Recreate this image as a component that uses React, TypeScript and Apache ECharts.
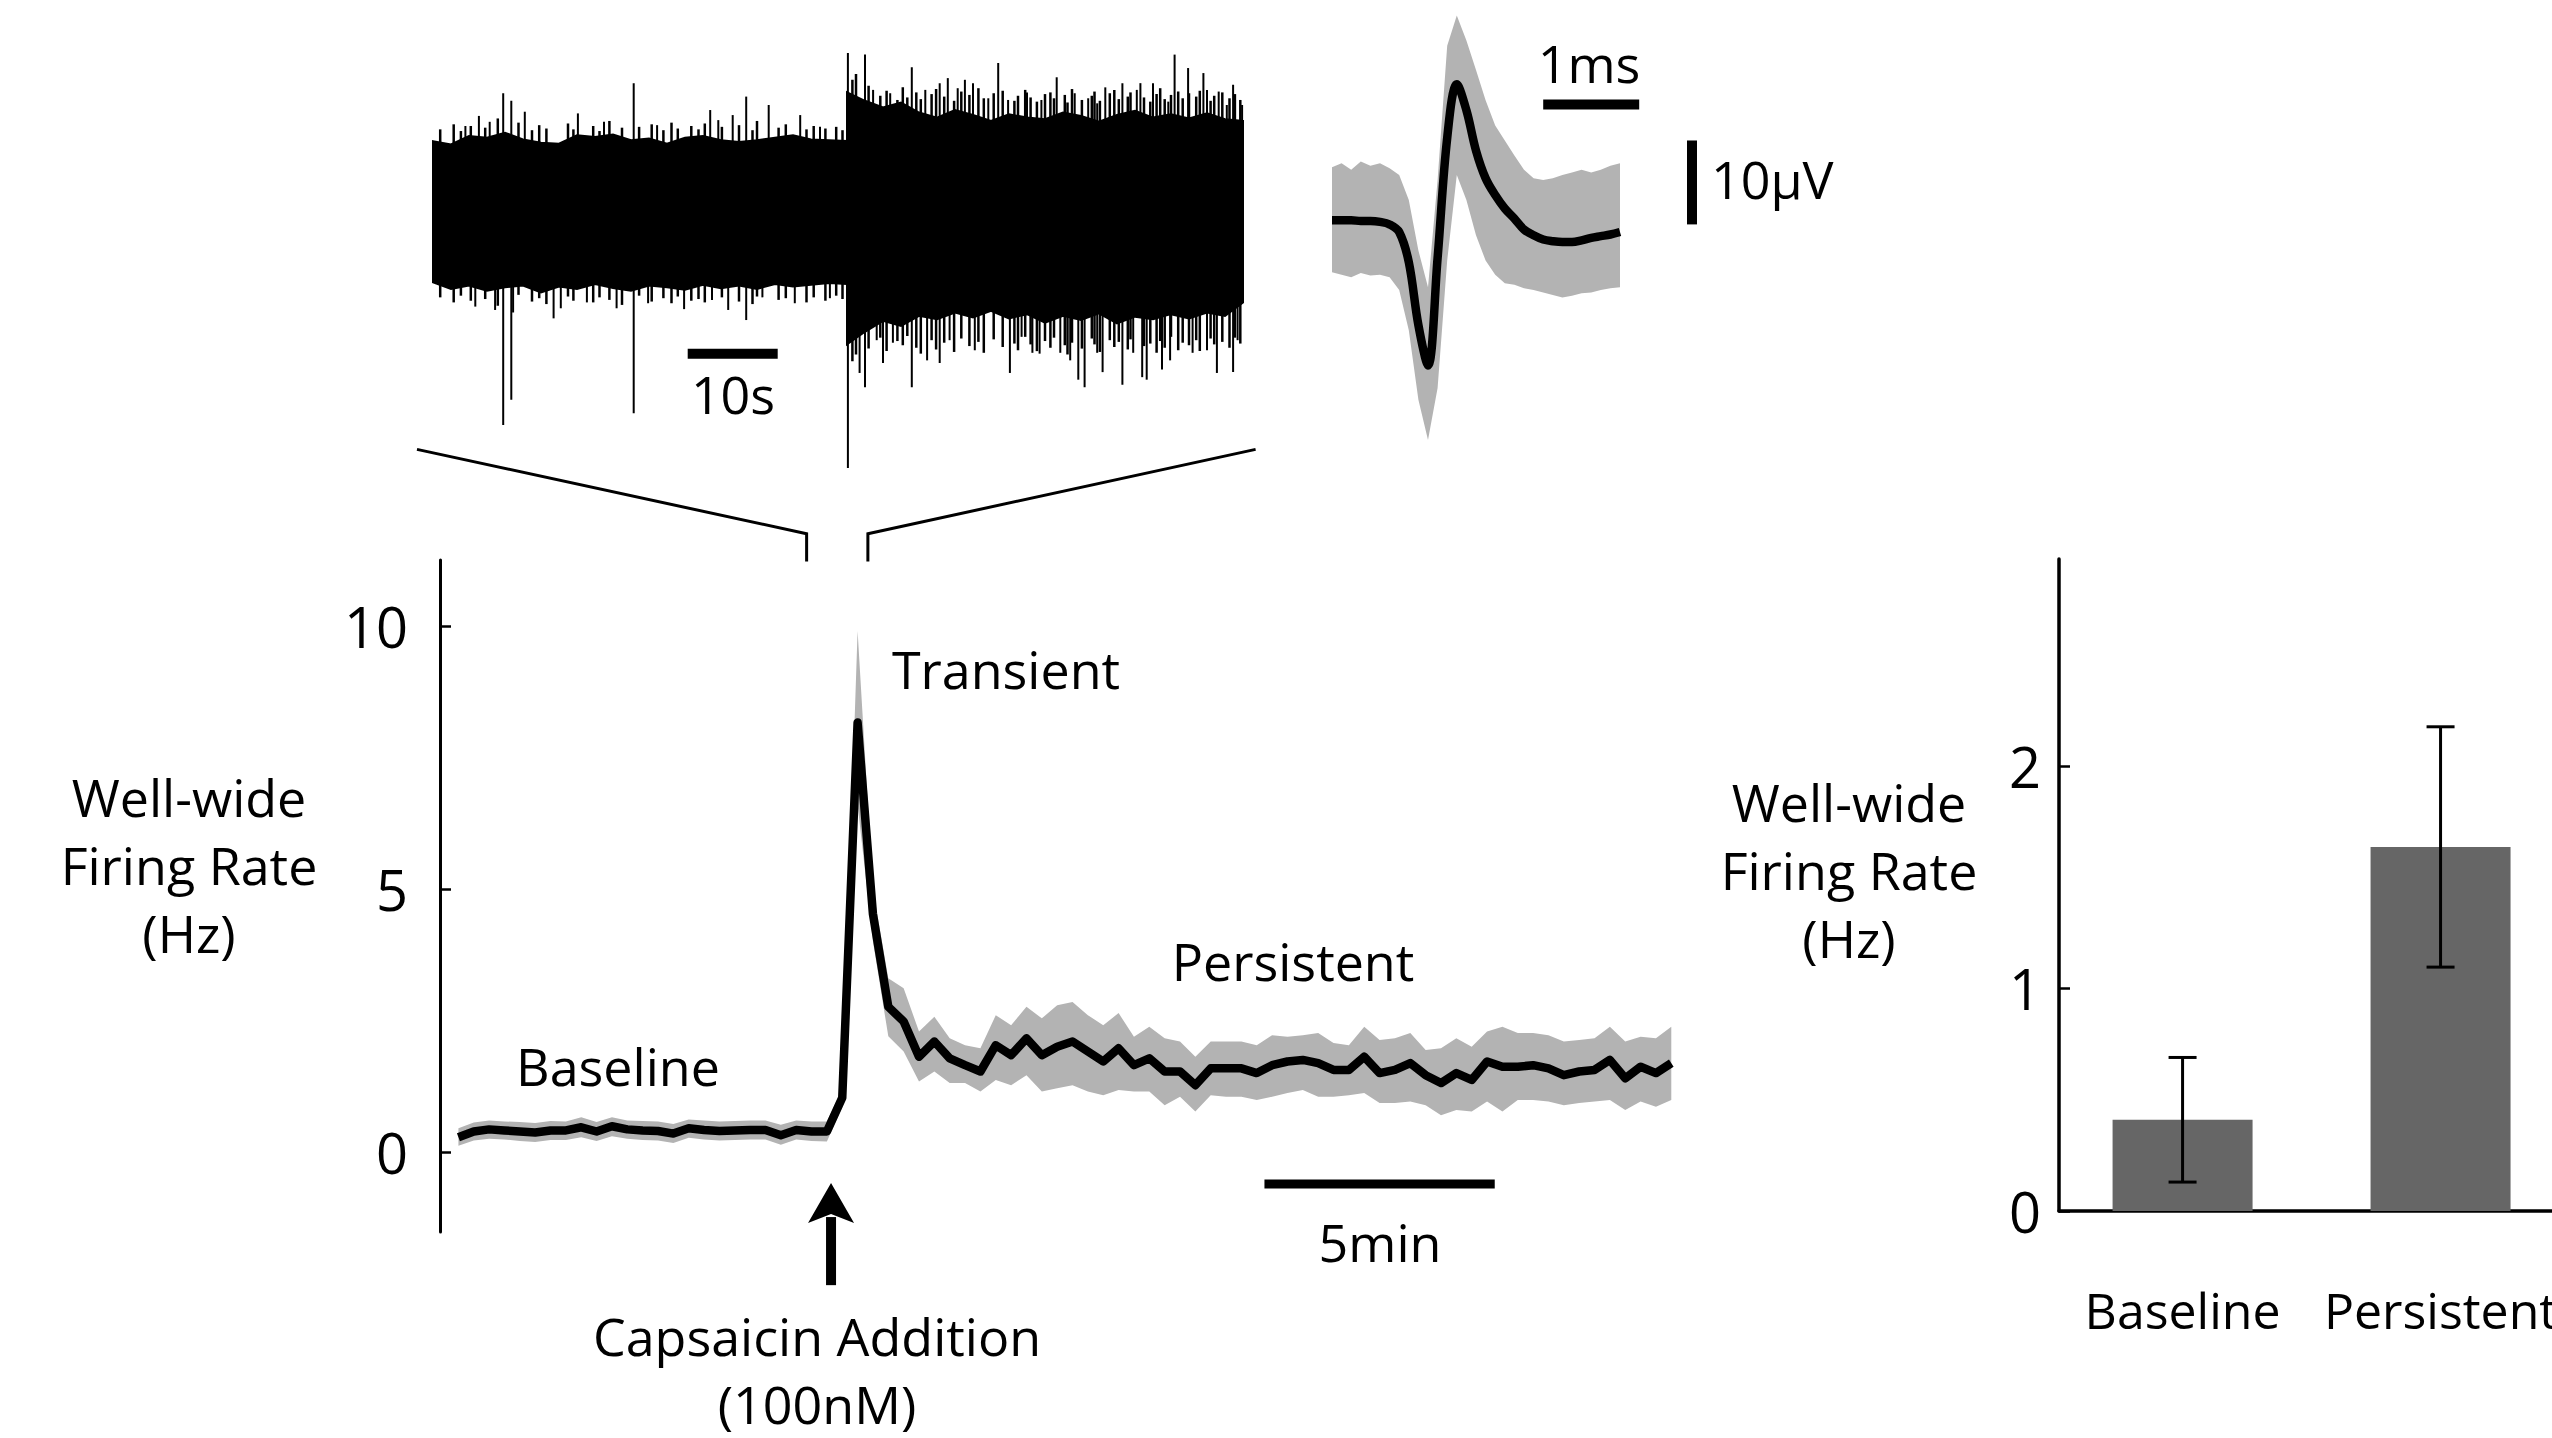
import React, { useEffect, useRef } from "react";
import * as echarts from "echarts";

// ---------- Raw trace (top left), seconds / µV ----------
const traceTimes = [0, 2, 4, 6, 8, 10, 12, 14, 16, 18, 20, 22, 24, 26, 28, 30, 32, 34, 36, 38, 40, 42, 44, 46,
  46, 48, 50, 52, 54, 56, 58, 60, 62, 64, 66, 68, 70, 72, 74, 76, 78, 80, 82, 84, 86, 88, 90];
const traceHigh = [8.2, 7.8, 8.8, 8.6, 9.2, 8.4, 8.0, 7.9, 8.9, 8.7, 9.0, 8.3, 8.5, 7.9, 8.6, 8.8, 8.3, 8.1, 8.3, 8.6, 8.9, 8.4, 8.3, 8.2,
  14.0, 13.0, 12.2, 12.8, 11.6, 11.0, 11.9, 11.3, 10.6, 11.4, 11.0, 10.8, 11.6, 11.2, 10.5, 11.3, 11.8, 11.0, 11.4, 10.9, 11.5, 10.8, 10.6];
const traceLow = [-8.6, -9.4, -9.0, -9.6, -9.2, -9.0, -9.8, -9.1, -9.4, -8.8, -9.3, -9.6, -9.0, -9.2, -9.5, -8.9, -9.3, -9.0, -9.4, -8.8, -9.1, -8.9, -8.7, -8.8,
  -16.0, -14.5, -13.2, -13.8, -12.6, -13.0, -12.2, -12.8, -12.0, -12.9, -12.4, -13.4, -12.6, -13.1, -12.3, -13.5, -12.7, -13.0, -12.4, -12.9, -12.2, -12.6, -11.0];

// large isolated spikes
const spikeTimes = [3.6, 4.7, 5.1, 6.3, 6.9, 7.8, 8.7, 8.9, 10.2, 13.4, 14.2, 16.1, 17.1, 19.0, 20.4, 22.3, 23.9, 24.9, 27.9, 30.8, 31.0, 31.7, 32.8, 33.3, 34.8, 36.6, 37.3, 40.2, 40.8, 43.0, 44.1,
  46.1, 47.4, 48.0, 48.9, 49.3, 50.0, 50.8, 51.1, 53.2, 54.7, 54.9, 56.3, 57.2, 57.4, 58.3, 59.1, 60.0, 60.2, 61.7, 62.8, 63.9, 64.1, 65.4, 66.0, 66.6, 67.4, 67.6, 69.3, 69.7, 70.8, 71.3, 71.7, 72.4, 72.8, 73.8, 74.4, 74.7, 76.6, 77.8, 78.2, 78.6, 78.8, 79.3, 80.0, 81.0, 81.7, 81.9, 82.4, 83.9, 84.4, 85.6, 86.0, 87.1, 87.3, 88.2, 88.9, 89.4, 89.9];
const spikeHighs = [10.0, 0, 11.2, 10.5, 0, 13.9, 13.0, 0, 11.7, 0, 0, 11.5, 0, 10.5, 0, 15.1, 0, 10.1, 0, 11.9, 0, 10.7, 0, 11.3, 13.5, 0, 12.5, 0, 11.3, 9.9, 0,
  18.7, 0, 18.5, 14.3, 0, 0, 13.9, 0, 17.0, 14.3, 0, 15.1, 15.7, 0, 14.5, 15.5, 15.1, 0, 13.3, 17.5, 13.1, 0, 0, 14.0, 0, 0, 13.1, 15.8, 0, 0, 13.9, 0, 0, 13.3, 12.7, 0, 14.6, 15.1, 0, 14.3, 15.1, 0, 0, 15.1, 0, 12.9, 0, 18.5, 16.9, 0, 16.3, 14.3, 0, 14.1, 12.5, 14.9, 0, 12.5];
const spikeLows = [0, -11.5, 0, 0, -11.9, -25.6, -22.6, -12.2, 0, -12.9, -11.7, 0, -11.0, 0, -11.7, -24.2, -11.1, 0, -11.8, 0, -10.7, 0, -11.9, 0, -13.1, -10.4, 0, -11.1, 0, 0, -10.5,
  -30.7, -19.4, -21.1, 0, -15.5, -18.2, 0, -15.8, -21.1, 0, -17.9, -18.2, 0, -15.5, 0, 0, 0, -16.7, 0, 0, 0, -19.4, -15.1, 0, -17.0, -17.1, 0, 0, -17.0, -17.9, 0, -20.2, -21.1, 0, -17.0, -19.3, 0, -20.8, -17.0, 0, 0, -19.9, -20.2, 0, -19.0, 0, -17.9, 0, 0, -17.0, 0, -16.7, -19.4, 0, 0, -19.3, -15.5, 0];

// ragged noise fringe around the dense band
const fringeTimes = [0.8, 2.3, 3.1, 4.2, 5.8, 7.2, 9.5, 11.0, 11.8, 12.6, 15.0, 15.6, 17.8, 18.5, 19.6, 21.0, 22.9, 24.3, 25.6, 26.5, 27.2, 28.7, 29.5, 30.2, 32.1, 34.0, 35.5, 36.0, 38.4, 39.2, 41.5, 42.3, 43.6, 44.8, 45.5,
  46.6, 47.0, 48.4, 49.7, 50.4, 51.6, 52.2, 52.7, 53.7, 54.2,
  55.4, 55.9, 56.8, 57.9, 58.7, 59.6, 60.6, 61.2, 62.3, 63.3,
  64.6, 65.0, 65.8, 66.4, 67.1, 68.0, 68.6, 69.0, 70.2, 70.5,
  71.0, 72.1, 73.2, 73.5, 74.1, 75.2, 75.7, 76.2, 77.2, 77.5,
  79.0, 79.7, 80.4, 80.8, 81.3, 82.0, 82.8, 83.3, 84.0, 84.8,
  85.2, 86.4, 86.8, 87.7, 88.5, 89.1, 89.7];
const fringeHighs = [9.6, 10.2, 9.4, 10.0, 9.8, 10.9, 10.4, 9.5, 10.1, 9.7, 10.3, 9.6, 10.0, 9.4, 10.6, 9.8, 9.9, 10.2, 9.5, 10.4, 9.7, 10.0, 9.6, 10.3, 9.9, 10.1, 9.5, 10.6, 9.8, 10.2, 9.6, 10.0, 9.7, 9.9, 9.5,
  15.5, 16.2, 14.8, 13.6, 14.2, 13.1, 14.6, 13.4, 14.0, 13.2,
  13.8, 14.4, 13.5, 13.0, 14.1, 13.7, 14.5, 13.3, 13.9, 14.2,
  13.0, 13.6, 14.3, 13.4, 12.9, 13.8, 14.0, 13.3, 13.7, 12.8,
  14.4, 13.1, 13.6, 14.1, 13.0, 13.9, 14.3, 13.2, 13.5, 14.0,
  13.4, 12.9, 13.8, 14.5, 13.2, 13.7, 14.1, 13.3, 13.9, 13.5,
  14.2, 13.0, 13.6, 14.0, 13.3, 13.8, 13.1];
const fringeLows = [-10.4, -11.0, -10.2, -10.8, -10.6, -11.4, -10.1, -10.9, -10.5, -11.2, -10.3, -10.8, -11.0, -10.4, -10.7, -11.3, -10.2, -10.9, -10.5, -11.1, -10.3, -10.8, -10.6, -11.0, -10.4, -10.9, -11.2, -10.3, -10.7, -10.5, -11.0, -10.4, -10.8, -10.2, -10.6,
  -18.0, -17.2, -16.5, -15.2, -16.8, -15.6, -16.1, -15.0, -16.4, -17.1,
  -15.5, -16.6, -15.8, -16.9, -15.3, -16.2, -15.7, -17.0, -15.4, -16.3,
  -15.9, -16.7, -15.1, -16.0, -16.8, -15.6, -16.4, -15.2, -16.1, -17.2,
  -15.8, -16.5, -15.3, -16.0, -16.9, -15.5, -16.3, -15.7, -16.6, -15.4,
  -16.2, -15.9, -17.0, -15.6, -16.4, -15.1, -16.7, -15.8, -16.1, -15.5,
  -16.8, -15.3, -16.0, -15.7, -16.4, -15.2, -15.9];

// ---------- Spike waveform (top right), ms / µV ----------
const waveStepMs = 0.1;
const waveMean = [0, 0, 0, -0.1, -0.1, -0.2, -0.5, -1.4, -5.0, -12.5, -17.3, -4.5, 9.8, 16.2, 13.1, 8.3, 5.0, 3.0, 1.4, 0.2, -1.1, -1.8, -2.3, -2.5, -2.6, -2.6, -2.4, -2.1, -1.9, -1.7, -1.4];
const waveHigh = [6.3, 6.8, 6.0, 7.0, 6.5, 6.8, 6.2, 5.4, 2.4, -3.6, -8.0, 4.8, 20.8, 24.4, 21.4, 17.9, 14.3, 11.3, 9.5, 7.7, 6.0, 5.0, 4.8, 5.0, 5.4, 5.7, 6.0, 5.7, 6.0, 6.5, 6.8];
const waveLow = [-6.2, -6.5, -6.8, -6.3, -6.6, -6.5, -6.8, -8.3, -13.1, -21.4, -26.2, -20.0, -4.8, 5.4, 2.4, -1.8, -4.8, -6.5, -7.5, -7.7, -8.1, -8.3, -8.6, -8.9, -9.2, -9.0, -8.7, -8.6, -8.3, -8.1, -8.0];

// ---------- Well-wide firing rate (bottom left), 20 s bins ----------
const binMinutes = 1 / 3;
const rateMean = [0.28, 0.39, 0.43, 0.41, 0.39, 0.37, 0.41, 0.41, 0.47, 0.39, 0.49, 0.43, 0.41, 0.40, 0.35, 0.45, 0.42, 0.40, 0.41, 0.42, 0.42, 0.32, 0.42, 0.39, 0.39,
  1.03, 8.16, 4.52, 2.76,
  2.48, 1.81, 2.10, 1.78, 1.65, 1.53, 2.03, 1.84, 2.16, 1.84, 2.00, 2.10, 1.91, 1.72, 1.97, 1.65, 1.78, 1.53, 1.53, 1.27, 1.59, 1.59, 1.59, 1.50,
  1.65, 1.72, 1.75, 1.69, 1.56, 1.56, 1.81, 1.50, 1.56, 1.69, 1.46, 1.31, 1.50, 1.37, 1.72, 1.62, 1.62, 1.65, 1.59, 1.46, 1.53, 1.56, 1.75, 1.40, 1.62, 1.50, 1.69];
const rateHigh = [0.45, 0.56, 0.60, 0.58, 0.57, 0.55, 0.59, 0.58, 0.66, 0.57, 0.66, 0.60, 0.59, 0.58, 0.53, 0.62, 0.60, 0.58, 0.59, 0.60, 0.60, 0.52, 0.60, 0.58, 0.58,
  1.20, 9.90, 5.00, 3.30,
  3.11, 2.29, 2.57, 2.16, 2.03, 1.97, 2.60, 2.41, 2.76, 2.54, 2.79, 2.85, 2.60, 2.41, 2.64, 2.19, 2.38, 2.16, 2.10, 1.81, 2.10, 2.10, 2.10, 2.03,
  2.22, 2.19, 2.22, 2.26, 2.07, 2.03, 2.38, 2.13, 2.16, 2.26, 1.94, 1.97, 2.16, 2.00, 2.29, 2.38, 2.26, 2.26, 2.22, 2.10, 2.13, 2.16, 2.38, 2.10, 2.19, 2.16, 2.38];
const rateLow = [0.12, 0.22, 0.25, 0.24, 0.21, 0.19, 0.23, 0.23, 0.28, 0.21, 0.30, 0.25, 0.23, 0.22, 0.17, 0.27, 0.24, 0.22, 0.23, 0.24, 0.24, 0.14, 0.24, 0.21, 0.20,
  0.85, 6.60, 4.00, 2.20,
  1.91, 1.34, 1.53, 1.31, 1.31, 1.15, 1.37, 1.27, 1.46, 1.15, 1.21, 1.27, 1.15, 1.08, 1.18, 1.15, 1.15, 0.89, 1.05, 0.77, 1.08, 1.05, 1.05, 0.99,
  1.05, 1.12, 1.18, 1.05, 1.05, 1.08, 1.12, 0.93, 0.93, 0.96, 0.89, 0.70, 0.80, 0.77, 0.96, 0.77, 0.99, 0.99, 0.96, 0.89, 0.93, 0.96, 0.99, 0.80, 0.96, 0.86, 0.99];
const rateTicks = [0, 5, 10];

// ---------- Bar chart (bottom right) ----------
const barCategories = ["Baseline", "Persistent"];
const barMeans = [0.41, 1.636];
const barErrors = [0.28, 0.54];
const barTicks = [0, 1, 2];
const barSlots = [0, 1];

// ---------- Scale bars & annotations (axis units) ----------
const traceScaleSec = [28.3, 38.3];
const traceScaleLevel = -17.1;
const waveScaleMs = [2.2, 3.2];
const waveScaleMsLevel = 13.8;
const waveScaleUvAt = 3.75;
const waveScaleUv = [-0.5, 9.5];
const minuteScale = [17.5, 22.5];
const minuteScaleLevel = -0.61;
const capsaicinMin = 8.09;
const zoomWindowMin = [7.56, 8.89];
const zoomTraceEnds = [-1.78, 91.4];

const FONT = '"Open Sans", "Noto Sans", sans-serif';

export default function App() {
  const ref = useRef<HTMLDivElement>(null);
  useEffect(() => {
    const chart = echarts.init(ref.current!, null, { renderer: "svg" });
    const rateTimes = rateMean.map((_, i) => i * binMinutes);
    const waveTimes = waveMean.map((_, i) => i * waveStepMs);

    const bandItem = (xs: number[], hi: number[], lo: number[], fill: string, strokeW = 0) =>
      (params: any, api: any) => {
        const pts: number[][] = [];
        for (let i = 0; i < xs.length; i++) pts.push(api.coord([xs[i], hi[i]]));
        for (let i = xs.length - 1; i >= 0; i--) pts.push(api.coord([xs[i], lo[i]]));
        return {
          type: "polygon",
          shape: { points: pts },
          style: { fill, stroke: fill, lineWidth: strokeW },
          silent: true,
        };
      };

    const vLines = (color: string, width: number) => (params: any, api: any) => {
      const a = api.coord([api.value(0), api.value(1)]);
      const b = api.coord([api.value(0), api.value(2)]);
      return { type: "line", shape: { x1: a[0], y1: a[1], x2: b[0], y2: b[1] }, style: { stroke: color, lineWidth: width } };
    };

    const scaleLine = (xi: number, data: number[][], width: number) => ({
      type: "line",
      xAxisIndex: xi,
      yAxisIndex: xi,
      data,
      symbol: "none",
      silent: true,
      clip: false,
      z: 6,
      lineStyle: { color: "#000", width, cap: "butt" },
    });

    const axisLabelStyle = { color: "#000", fontFamily: FONT, fontSize: 56 };

    const option: any = {
      animation: false,
      backgroundColor: "#ffffff",
      grid: [
        { left: 433, top: 0, width: 810, height: 504, outerBoundsMode: "none", containLabel: false },
        { left: 1332, top: 2, width: 384, height: 470, outerBoundsMode: "none", containLabel: false },
        { left: 440, top: 560, width: 1262, height: 672, outerBoundsMode: "none", containLabel: false },
        { left: 2059, top: 559, width: 493, height: 652, outerBoundsMode: "none", containLabel: false },
      ],
      xAxis: [
        { gridIndex: 0, type: "value", min: 0, max: 90, show: false },
        { gridIndex: 1, type: "value", min: 0, max: 4, show: false },
        { gridIndex: 2, type: "value", min: -0.4, max: 27, show: false },
        {
          gridIndex: 3,
          type: "value",
          min: -0.479,
          max: 1.432,
          axisLine: { show: true, onZero: false, lineStyle: { color: "#000", width: 3.5 } },
          axisTick: { show: false },
          axisLabel: {
            customValues: barSlots,
            formatter: (v: number) => barCategories[Math.round(v)] || "",
            margin: 74,
            color: "#000",
            fontFamily: FONT,
            fontSize: 50,
            hideOverlap: false,
          },
          splitLine: { show: false },
        },
      ],
      yAxis: [
        { gridIndex: 0, type: "value", min: -35, max: 25, show: false },
        { gridIndex: 1, type: "value", min: -30, max: 26, show: false },
        {
          gridIndex: 2,
          type: "value",
          min: -1.52,
          max: 11.25,
          splitLine: { show: false },
          axisLine: { show: true, onZero: false, lineStyle: { color: "#000", width: 3 } },
          axisTick: { show: true, inside: true, length: 11, lineStyle: { color: "#000", width: 2.5 }, customValues: rateTicks },
          axisLabel: { ...axisLabelStyle, margin: 32, customValues: rateTicks },
        },
        {
          gridIndex: 3,
          type: "value",
          min: 0,
          max: 2.93,
          splitLine: { show: false },
          axisLine: { show: true, onZero: false, lineStyle: { color: "#000", width: 3.5 } },
          axisTick: { show: true, inside: true, length: 11, lineStyle: { color: "#000", width: 2.5 }, customValues: barTicks },
          axisLabel: { ...axisLabelStyle, margin: 18, customValues: barTicks },
        },
      ],
      series: [
        {
          type: "custom",
          xAxisIndex: 0,
          yAxisIndex: 0,
          data: [[traceTimes[0], 0]],
          renderItem: bandItem(traceTimes, traceHigh, traceLow, "#000", 2),
          silent: true,
          z: 2,
        },
        {
          type: "custom",
          xAxisIndex: 0,
          yAxisIndex: 0,
          data: fringeTimes.map((t, i) => [t, fringeHighs[i], fringeLows[i]]),
          encode: { x: 0, y: [1, 2] },
          silent: true,
          z: 3,
          renderItem: vLines("#000", 2.5),
        },
        {
          type: "custom",
          xAxisIndex: 0,
          yAxisIndex: 0,
          data: spikeTimes.map((t, i) => [t, spikeHighs[i], spikeLows[i]]),
          encode: { x: 0, y: [1, 2] },
          silent: true,
          z: 3,
          renderItem: vLines("#000", 2),
        },
        scaleLine(0, traceScaleSec.map((t) => [t, traceScaleLevel]), 10),
        {
          type: "custom",
          xAxisIndex: 1,
          yAxisIndex: 1,
          data: [[waveTimes[0], 0]],
          renderItem: bandItem(waveTimes, waveHigh, waveLow, "#b3b3b3"),
          silent: true,
          z: 2,
        },
        {
          type: "line",
          xAxisIndex: 1,
          yAxisIndex: 1,
          data: waveTimes.map((t, i) => [t, waveMean[i]]),
          symbol: "none",
          smooth: 0.35,
          silent: true,
          z: 4,
          lineStyle: { color: "#000", width: 8.5, join: "round" },
        },
        scaleLine(1, waveScaleMs.map((t) => [t, waveScaleMsLevel]), 10),
        scaleLine(1, waveScaleUv.map((v) => [waveScaleUvAt, v]), 10),
        {
          type: "custom",
          xAxisIndex: 2,
          yAxisIndex: 2,
          data: [[rateTimes[0], rateMean[0]]],
          renderItem: bandItem(rateTimes, rateHigh, rateLow, "#b3b3b3"),
          silent: true,
          z: 2,
        },
        {
          type: "line",
          xAxisIndex: 2,
          yAxisIndex: 2,
          data: rateTimes.map((t, i) => [t, rateMean[i]]),
          symbol: "none",
          silent: true,
          z: 4,
          lineStyle: { color: "#000", width: 8.5, join: "round" },
        },
        scaleLine(2, minuteScale.map((t) => [t, minuteScaleLevel]), 9),
        {
          type: "bar",
          xAxisIndex: 3,
          yAxisIndex: 3,
          data: barSlots.map((s, i) => [s, barMeans[i]]),
          barWidth: 140,
          silent: true,
          z: 2,
          itemStyle: { color: "#666666" },
        },
        {
          type: "custom",
          xAxisIndex: 3,
          yAxisIndex: 3,
          data: barSlots.map((s, i) => [s, barMeans[i] - barErrors[i], barMeans[i] + barErrors[i]]),
          encode: { x: 0, y: [1, 2] },
          silent: true,
          z: 10,
          renderItem: (params: any, api: any) => {
            const lo = api.coord([api.value(0), api.value(1)]);
            const hi = api.coord([api.value(0), api.value(2)]);
            const w = 14;
            const st = { stroke: "#000", lineWidth: 3 };
            return {
              type: "group",
              children: [
                { type: "line", shape: { x1: lo[0], y1: lo[1], x2: hi[0], y2: hi[1] }, style: st },
                { type: "line", shape: { x1: lo[0] - w, y1: lo[1], x2: lo[0] + w, y2: lo[1] }, style: st },
                { type: "line", shape: { x1: hi[0] - w, y1: hi[1], x2: hi[0] + w, y2: hi[1] }, style: st },
              ],
            };
          },
        },
      ],
    };
    chart.setOption(option);

    const px = (g: number, v: number[]) => chart.convertToPixel({ gridIndex: g } as any, v) as number[];
    const text = (x: number, y: number, s: string, extra: any = {}) => ({
      type: "text",
      x,
      y,
      silent: true,
      style: {
        text: s,
        fill: "#000",
        fontFamily: FONT,
        fontSize: 52,
        align: "center",
        verticalAlign: "middle",
        lineHeight: 68,
        ...extra,
      },
    });

    const lTop = px(0, [zoomTraceEnds[0], -28.5]);
    const rTop = px(0, [zoomTraceEnds[1], -28.5]);
    const lMid = px(2, [zoomWindowMin[0], 11.75]);
    const lBot = px(2, [zoomWindowMin[0], 11.22]);
    const rMid = px(2, [zoomWindowMin[1], 11.75]);
    const rBot = px(2, [zoomWindowMin[1], 11.22]);
    const tip = px(2, [capsaicinMin, -0.59]);
    const headBase = px(2, [capsaicinMin, -1.35]);
    const tail = px(2, [capsaicinMin, -2.53]);
    const lineSt = { stroke: "#000", lineWidth: 3, fill: null };

    chart.setOption({
      graphic: [
        { type: "polyline", silent: true, shape: { points: [lTop, lMid, lBot] }, style: lineSt },
        { type: "polyline", silent: true, shape: { points: [rTop, rMid, rBot] }, style: lineSt },
        {
          type: "rect",
          silent: true,
          shape: { x: tip[0] - 5, y: headBase[1] - 6, width: 10, height: tail[1] - headBase[1] + 6 },
          style: { fill: "#000" },
        },
        {
          type: "polygon",
          silent: true,
          shape: {
            points: [
              [tip[0], tip[1]],
              [tip[0] + 23, headBase[1]],
              [tip[0], headBase[1] - 9],
              [tip[0] - 23, headBase[1]],
            ],
          },
          style: { fill: "#000" },
        },
        text(189, 864, "Well-wide\nFiring Rate\n(Hz)"),
        text(1849, 869, "Well-wide\nFiring Rate\n(Hz)"),
        text(618, 1065, "Baseline"),
        text(1006, 668, "Transient"),
        text(1293, 960, "Persistent"),
        text(1380, 1241, "5min"),
        text(817, 1369, "Capsaicin Addition\n(100nM)"),
        text(733, 393, "10s"),
        text(1589, 62, "1ms"),
        text(1711, 178, "10μV", { align: "left" }),
      ],
    });

    return () => chart.dispose();
  }, []);

  return (
    <div
      ref={ref}
      style={{ position: "fixed", left: 0, top: 0, width: 2552, height: 1438, background: "#ffffff" }}
    />
  );
}
